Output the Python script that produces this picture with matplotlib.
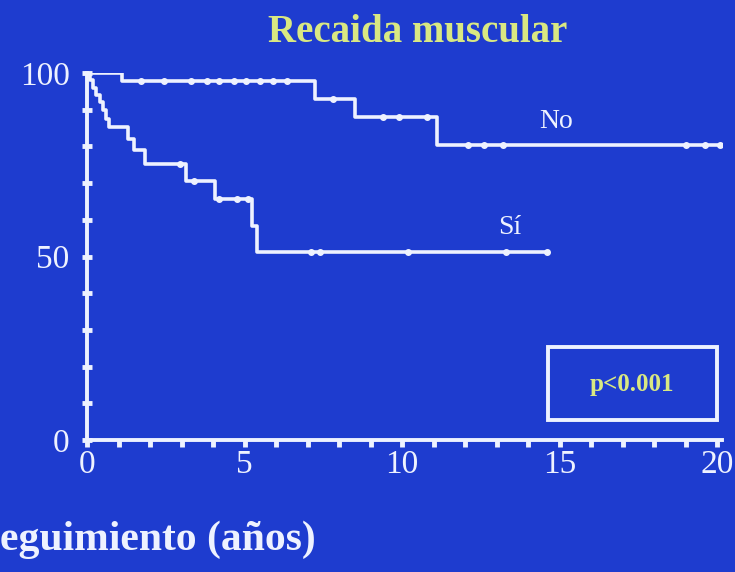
import numpy as np
import matplotlib
matplotlib.use("Agg")
import matplotlib.pyplot as plt
from matplotlib.patches import Rectangle

# ---------- DATOS ----------
# Kaplan-Meier: tiempo (años) y supervivencia libre de recaída (%)
no_t = [0, 1.1, 7.25, 8.5, 11.1, 20.1]
no_s = [100, 97.7, 92.8, 88.1, 80.3, 80.3]
no_cens = [1.7, 2.45, 3.3, 3.8, 4.2, 4.65, 5.05, 5.5, 5.9, 6.35,
           7.8, 9.4, 9.9, 10.8, 12.1, 12.6, 13.2, 19.0, 19.6, 20.1]

si_t = [0, 0.1, 0.2, 0.3, 0.4, 0.5, 0.6, 0.7, 1.3, 1.5, 1.85,
        3.15, 4.05, 5.25, 5.4, 14.6]
si_s = [100, 98, 96, 94, 92, 90, 87.5, 85.3, 82, 79, 75.1,
        70.6, 65.6, 58.3, 51.2, 51.2]
si_cens = [2.95, 3.4, 4.2, 4.75, 5.1, 7.1, 7.4, 10.2, 13.3, 14.6]

x_ticks = [0, 5, 10, 15, 20]
y_ticks = [0, 50, 100]

BG = "#1e3ccf"
LINE = "#eef2ff"
YELLOW = "#d9e882"


def surv_at(t, s, times):
    idx = np.searchsorted(t, times, side="right") - 1
    return np.asarray(s)[idx]


# ---------- GRÁFICA ----------
plt.rcParams["font.family"] = ["Liberation Serif", "DejaVu Serif"]

fig = plt.figure(figsize=(7.35, 5.72), dpi=100, facecolor=BG)
ax = fig.add_axes([87 / 735, 1 - 440 / 572, 635 / 735, 367 / 572])
ax.set_facecolor(BG)

for t, s, c in [(no_t, no_s, no_cens), (si_t, si_s, si_cens)]:
    ax.step(t, s, where="post", color=LINE, lw=2.6, zorder=3)
    ax.plot(c, surv_at(t, s, c), "o", color=LINE, ms=4, zorder=4)

ax.set_xlim(0, 20.15)
ax.set_ylim(0, 100)

for side in ["top", "right"]:
    ax.spines[side].set_visible(False)
for side in ["left", "bottom"]:
    ax.spines[side].set_color(LINE)
    ax.spines[side].set_linewidth(2.8)

ax.set_xticks(x_ticks)
ax.set_xticks(range(0, 21), minor=True)
ax.set_yticks(y_ticks)
ax.set_yticks(range(0, 101, 10), minor=True)
ax.tick_params(axis="x", which="both", direction="out", length=5, width=3.5,
               color=LINE, labelcolor=LINE, labelsize=24, pad=2)
ax.tick_params(axis="y", which="both", direction="inout", length=7, width=3.5,
               color=LINE, labelcolor=LINE, labelsize=24, pad=9)

ax.text(14.9, 83.5, "No", color=LINE, fontsize=20, ha="center", va="bottom")
ax.text(13.4, 54.5, "Sí", color=LINE, fontsize=20, ha="center", va="bottom")

ax.add_patch(Rectangle((0.726, 0.054), 0.266, 0.199, transform=ax.transAxes,
                       fill=False, edgecolor=LINE, lw=2.8, clip_on=False))
ax.text(0.858, 0.15, "p<0.001", transform=ax.transAxes, color=YELLOW,
        fontsize=18, fontweight="bold", ha="center", va="center")

fig.text(418 / 735, 1 - 33 / 572, "Recaida muscular", color=YELLOW,
         fontsize=28, fontweight="bold", ha="center", va="center")
fig.text(0.0, 1 - 540 / 572, "eguimiento (años)", color=LINE,
         fontsize=30, fontweight="bold", ha="left", va="center")

fig.savefig("out.png", dpi=100, facecolor=BG)
